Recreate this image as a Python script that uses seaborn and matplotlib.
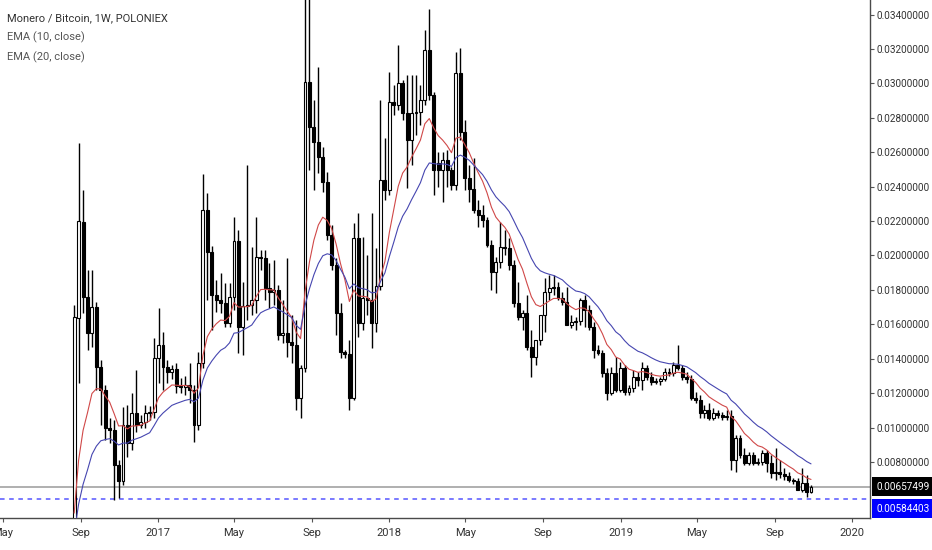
import numpy as np
import pandas as pd
import matplotlib
matplotlib.use("Agg")
import matplotlib.pyplot as plt
import matplotlib.dates as mdates
from matplotlib.ticker import FixedLocator, FuncFormatter
import seaborn as sns

# weekly XMR/BTC candles, values in units of 1e-5 BTC
first_week = "2016-08-22"

open_e5 = [
    250, 1636, 2194, 1758, 1549, 1700, 1352, 1218, 997, 986,
    782, 689, 1015, 910, 1084, 1015, 1032, 1084, 1090, 1404,
    1480, 1352, 1323, 1340, 1241, 1236, 1247, 1218, 1015, 1375,
    2264, 2020, 1770, 1741, 1724, 1607, 1758, 2084, 1584, 1706,
    1712, 1741, 1991, 1985, 1811, 1787, 1799, 1538, 1549, 1497,
    1480, 1172, 1346, 3008, 2746, 2659, 2572, 2427, 2119, 1944,
    1665, 1439, 1427, 1172, 2101, 1607, 1753, 1741, 1607, 1822,
    2438, 2380, 2891, 2874, 3002, 2827, 2671, 2827, 2833, 2903,
    3193, 2932, 2537, 2496, 2554, 2496, 2409, 3060, 2717, 2450,
    2386, 2264, 2235, 2206, 2061, 1904, 1962, 2049, 2043, 1944,
    1724, 1642, 1665, 1468, 1410, 1509, 1654, 1787, 1811, 1817,
    1753, 1729, 1596, 1613, 1619, 1741, 1683, 1584, 1450, 1433,
    1317, 1201, 1317, 1218, 1346, 1206, 1230, 1294, 1276, 1346,
    1294, 1265, 1270, 1282, 1323, 1317, 1363, 1346, 1294, 1282,
    1172, 1160, 1084, 1102, 1055, 1084, 1073, 1061, 1067, 811,
    939, 840, 794, 840, 794, 800, 852, 794, 736, 742,
    730, 718, 695, 689, 637, 678, 625,
]
high_e5 = [
    1712, 2653, 2380, 1915, 1915, 1729, 1392, 1247, 1055, 1044,
    811, 1119, 1131, 1201, 1334, 1073, 1131, 1125, 1520, 1695,
    1555, 1392, 1363, 1375, 1288, 1300, 1375, 1247, 1439, 2473,
    2363, 2055, 1857, 1898, 1840, 1840, 2223, 2148, 1846, 2525,
    2049, 2223, 2031, 2031, 1956, 1973, 1828, 1741, 1985, 1654,
    1625, 1363, 3520, 3550, 2903, 3095, 2630, 2485, 2177, 1985,
    1724, 1450, 1509, 2188, 2246, 2107, 2002, 2246, 2043, 2903,
    2682, 3066, 2990, 3223, 3019, 3048, 3048, 3048, 2990, 3310,
    3432, 2949, 2601, 2601, 2612, 2514, 3182, 3205, 2787, 2525,
    2566, 2322, 2293, 2223, 2090, 1991, 2194, 2148, 2101, 1973,
    1846, 1683, 1770, 1567, 1509, 1625, 1869, 1886, 1886, 1846,
    1787, 1817, 1654, 1642, 1753, 1770, 1712, 1613, 1480, 1450,
    1346, 1352, 1410, 1381, 1363, 1247, 1334, 1323, 1381, 1363,
    1323, 1288, 1294, 1346, 1346, 1381, 1480, 1363, 1323, 1305,
    1206, 1189, 1131, 1143, 1114, 1102, 1090, 1102, 1102, 957,
    957, 881, 858, 858, 823, 869, 869, 840, 881, 811,
    765, 742, 707, 707, 765, 724, 666,
]
low_e5 = [
    250, 1259, 1665, 1450, 1468, 1218, 1015, 928, 910, 579,
    591, 666, 829, 869, 974, 997, 997, 1044, 1055, 1259,
    1218, 1259, 1282, 1201, 1201, 1190, 1143, 916, 986, 1346,
    1741, 1567, 1671, 1665, 1584, 1584, 1683, 1433, 1421, 1625,
    1654, 1665, 1915, 1741, 1695, 1712, 1509, 1491, 1410, 1375,
    1102, 1055, 1323, 2496, 2380, 2479, 2368, 2090, 1915, 1538,
    1404, 1404, 1102, 1160, 1526, 1567, 1654, 1462, 1555, 1799,
    2322, 2351, 2816, 2845, 2787, 2392, 2525, 2700, 2758, 2874,
    2903, 2351, 2398, 2310, 2398, 2380, 2380, 2671, 2380, 2310,
    2246, 2165, 2165, 2049, 1799, 1782, 1927, 2002, 1915, 1700,
    1625, 1567, 1450, 1294, 1363, 1480, 1555, 1741, 1770, 1741,
    1712, 1596, 1578, 1567, 1596, 1584, 1567, 1404, 1421, 1294,
    1160, 1189, 1206, 1206, 1189, 1189, 1206, 1241, 1218, 1276,
    1247, 1253, 1247, 1270, 1299, 1299, 1334, 1276, 1259, 1160,
    1143, 1055, 1055, 1044, 1044, 1055, 1044, 1044, 753, 742,
    823, 782, 782, 782, 782, 782, 742, 707, 695, 707,
    695, 684, 672, 637, 625, 596, 620,
]
close_e5 = [
    1642, 2200, 1758, 1549, 1700, 1352, 1218, 997, 986, 782,
    689, 1015, 910, 1084, 1015, 1032, 1084, 1090, 1404, 1480,
    1352, 1323, 1340, 1241, 1236, 1247, 1218, 1015, 1375, 2264,
    2020, 1770, 1741, 1724, 1607, 1758, 2084, 1584, 1706, 1712,
    1741, 1991, 1985, 1811, 1787, 1799, 1538, 1549, 1497, 1480,
    1172, 1346, 3008, 2746, 2659, 2572, 2427, 2119, 1944, 1665,
    1439, 1427, 1172, 2101, 1607, 1753, 1741, 1607, 1822, 2438,
    2380, 2891, 2874, 3002, 2827, 2671, 2827, 2833, 2903, 3193,
    2932, 2496, 2496, 2554, 2496, 2409, 3060, 2717, 2450, 2386,
    2264, 2235, 2206, 2061, 1904, 1962, 2049, 2043, 1944, 1724,
    1642, 1665, 1468, 1410, 1509, 1654, 1787, 1811, 1817, 1753,
    1729, 1596, 1613, 1619, 1741, 1683, 1584, 1450, 1433, 1317,
    1201, 1317, 1218, 1346, 1206, 1230, 1294, 1276, 1346, 1294,
    1265, 1270, 1282, 1323, 1317, 1363, 1346, 1294, 1282, 1172,
    1160, 1084, 1102, 1055, 1084, 1073, 1061, 1067, 811, 939,
    840, 794, 840, 794, 800, 852, 794, 736, 742, 730,
    718, 695, 689, 637, 678, 625, 657.499,
]

last_price = 0.00657499
blue_line = 0.00584403
y_ticks = [0.008, 0.010, 0.012, 0.014, 0.016, 0.018, 0.020, 0.022,
           0.024, 0.026, 0.028, 0.030, 0.032, 0.034]
title = "Monero / Bitcoin, 1W, POLONIEX"
ema_labels = ["EMA (10, close)", "EMA (20, close)"]


def ema(seed, values, span):
    s = pd.concat([pd.Series([seed]), pd.Series(values)], ignore_index=True)
    return s.ewm(span=span, adjust=False).mean().iloc[1:].values


def main():
    weeks = pd.date_range(first_week, periods=len(close_e5), freq="7D")
    df = pd.DataFrame({
        "x": mdates.date2num(weeks),
        "open": np.array(open_e5) * 1e-5,
        "high": np.array(high_e5) * 1e-5,
        "low": np.array(low_e5) * 1e-5,
        "close": np.array(close_e5) * 1e-5,
    })
    df["ema10"] = ema(df.open.iloc[0], df.close, 10)
    df["ema20"] = ema(df.open.iloc[0], df.close, 20)

    sns.set_style("white")
    plt.rcParams["font.family"] = ["Roboto", "DejaVu Sans"]

    fig = plt.figure(figsize=(9.32, 5.5), dpi=100)
    ax = fig.add_axes([0, 1 - 518 / 550, 870 / 932, 518 / 550])

    up = df.close >= df.open
    ax.vlines(df.x, df.low, df.high, color="black", lw=1, zorder=2)
    body_lo = np.minimum(df.open, df.close)
    body_h = np.maximum(np.abs(df.close - df.open), 0.00003)
    ax.bar(df.x, body_h, bottom=body_lo, width=4.6,
           color=np.where(up, "white", "black"), edgecolor="black",
           linewidth=0.8, zorder=3)

    sns.lineplot(data=df, x="x", y="ema10", color="#d04848", lw=0.8, ax=ax, zorder=4)
    sns.lineplot(data=df, x="x", y="ema20", color="#4646b0", lw=0.8, ax=ax, zorder=4)

    ax.axhline(last_price, color="#9a9a9a", lw=1.1, zorder=1)
    ax.axhline(blue_line, color="#5555ff", lw=1.1, ls=(0, (3, 3)), zorder=1)

    ax.set_xlim(mdates.date2num(pd.Timestamp("2016-04-27")),
                mdates.date2num(pd.Timestamp("2020-01-29")))
    ax.set_ylim(0.004747, 0.034843)

    ax.xaxis.set_major_locator(mdates.MonthLocator(bymonth=[1, 5, 9]))

    def fmt_date(v, pos):
        d = mdates.num2date(v)
        return str(d.year) if d.month == 1 else d.strftime("%b")

    ax.xaxis.set_major_formatter(FuncFormatter(fmt_date))
    ax.yaxis.tick_right()
    ax.yaxis.set_major_locator(FixedLocator(y_ticks))
    ax.yaxis.set_major_formatter(FuncFormatter(lambda v, p: "%.8f" % v))
    ax.tick_params(axis="y", right=True, length=3, width=0.8, color="#555555",
                   labelsize=7.2, labelcolor="#333333", pad=1.5)
    ax.tick_params(axis="x", bottom=True, length=3, width=0.8, color="#555555",
                   labelsize=8, labelcolor="#333333", pad=4)
    ax.set_xlabel("")
    ax.set_ylabel("")

    for side in ["left", "top"]:
        ax.spines[side].set_visible(False)
    for side in ["right", "bottom"]:
        ax.spines[side].set_color("#4a4a4a")
        ax.spines[side].set_linewidth(1)

    ytr = ax.get_yaxis_transform()
    ax.annotate("0.00657499", xy=(1.0, last_price), xycoords=ytr,
                xytext=(4.5, 0), textcoords="offset points", ha="left", va="center",
                fontsize=7.2, color="white", annotation_clip=False,
                bbox=dict(boxstyle="square,pad=0.45", fc="black", ec="none"))
    ax.annotate("0.00584403", xy=(1.0, blue_line), xycoords=ytr,
                xytext=(4.5, -7), textcoords="offset points", ha="left", va="center",
                fontsize=7.2, color="white", annotation_clip=False,
                bbox=dict(boxstyle="square,pad=0.45", fc="#0000ff", ec="none"))

    fig.text(7 / 932, 1 - 18 / 550, title, fontsize=8, color="#333333", va="center")
    fig.text(7 / 932, 1 - 37 / 550, ema_labels[0], fontsize=8, color="#555555", va="center")
    fig.text(7 / 932, 1 - 57 / 550, ema_labels[1], fontsize=8, color="#555555", va="center")

    fig.savefig("out.png", dpi=100, facecolor="white")


if __name__ == '__main__': main()
